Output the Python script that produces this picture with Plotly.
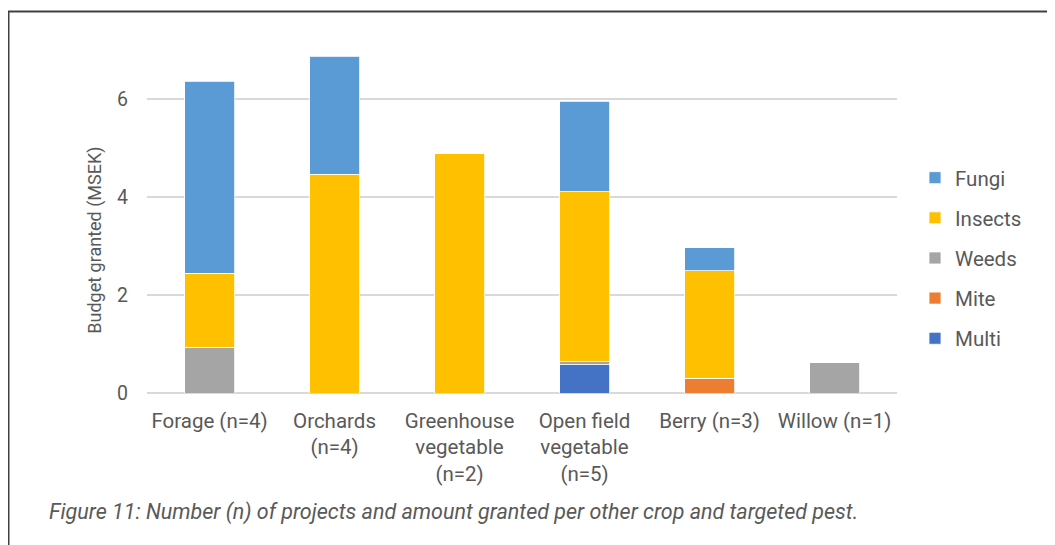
import plotly.graph_objects as go

categories = ["Forage (n=4)", "Orchards<br>(n=4)", "Greenhouse<br>vegetable<br>(n=2)",
              "Open field<br>vegetable<br>(n=5)", "Berry (n=3)", "Willow (n=1)"]
multi = [0, 0, 0, 0.58, 0, 0]
mite = [0, 0, 0, 0, 0.30, 0]
weeds = [0.93, 0, 0, 0.06, 0, 0.62]
insects = [1.51, 4.46, 4.89, 3.47, 2.19, 0]
fungi = [3.92, 2.41, 0, 1.84, 0.47, 0]

# stacking order bottom -> top, with legend rank (top -> bottom in legend)
series = [("Multi", multi, "#4472C4", 5), ("Mite", mite, "#ED7D31", 4),
          ("Weeds", weeds, "#A5A5A5", 3), ("Insects", insects, "#FFC000", 2),
          ("Fungi", fungi, "#5B9BD5", 1)]

OFF = 8  # page body margin
W, H = 1055 - OFF, 545 - OFF
PL, PR, PT, PB = 147 - OFF, 897 - OFF, 50 - OFF, 393.5 - OFF  # plot area in figure px
L, R, T, B = PL, W - PR, PT, H - PB

fig = go.Figure()
for name, vals, col, rank in series:
    fig.add_trace(go.Bar(x=categories, y=vals, name=name, marker_color=col,
                         marker_line=dict(color="white", width=0.8), width=0.4,
                         legendgroup=name, legendrank=rank))

font = "Roboto, Arial, sans-serif"
grey = "#595959"


def px2x(px):  # reference page px -> paper
    return (px - OFF - PL) / (PR - PL)


def px2y(py):
    return (PB - (py - OFF)) / (PB - PT)


fig.update_layout(
    width=W, height=H, barmode="stack",
    margin=dict(l=L, r=R, t=T, b=B, autoexpand=False),
    plot_bgcolor="white", paper_bgcolor="white",
    font=dict(family=font, size=18, color=grey),
    yaxis=dict(range=[0, 7], tickvals=[0, 2, 4, 6], showgrid=True, gridcolor="#D9D9D9",
               gridwidth=1.5, zeroline=True, zerolinecolor="#D9D9D9", zerolinewidth=1.5,
               showline=False, ticks="", ticklabelstandoff=18,
               tickfont=dict(size=19.5, color=grey)),
    xaxis=dict(showline=False, ticks="", ticklabelstandoff=13,
               tickfont=dict(size=20.5, color=grey)),
    legend=dict(traceorder="grouped", tracegroupgap=10.5,
                x=px2x(915), y=px2y(158), xanchor="left", yanchor="top",
                font=dict(size=20.5, color=grey), bgcolor="rgba(0,0,0,0)"),
    shapes=[dict(type="rect", xref="paper", yref="paper",
                 x0=px2x(8.5), x1=px2x(1070), y0=px2y(11.5), y1=px2y(570),
                 line=dict(color="#404040", width=2), layer="below")],
    annotations=[
        dict(text="Budget granted (MSEK)", textangle=-90,
             xref="paper", yref="paper", x=px2x(95), y=px2y(241),
             xanchor="center", yanchor="middle", showarrow=False,
             font=dict(family=font, size=18, color=grey)),
        dict(text="Figure 11: Number (n) of projects and amount granted per other crop and targeted pest.",
             xref="paper", yref="paper", x=px2x(47), y=px2y(513),
             xanchor="left", yanchor="middle", showarrow=False,
             font=dict(family=font, size=21.5, color=grey, style="italic"))],
)

fig.write_html("out.html")
